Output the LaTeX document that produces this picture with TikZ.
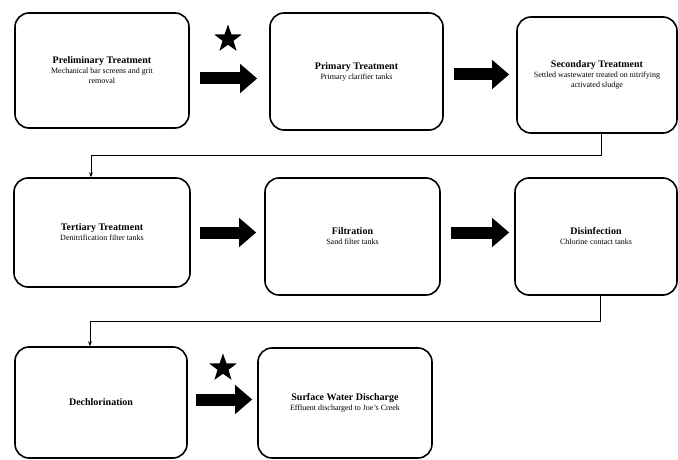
\documentclass[tikz,border=0pt]{standalone}
\usepackage{fontspec}
\setmainfont{Liberation Serif}
\usetikzlibrary{arrows.meta,shapes.geometric}

\tikzset{
  stage/.style={draw, line width=1.6pt, rounded corners=14pt, align=center,
    inner sep=2pt, font=\fontsize{8}{10}\selectfont},
  bigarrow/.style={line width=12pt, -{Triangle[length=17pt,width=28pt]}},
  flow/.style={line width=0.8pt, -{Stealth[length=5pt,width=4pt]}},
  bigstar/.style={star, star points=5, star point ratio=2.5, fill=black,
    minimum size=29pt, inner sep=0pt}
}
\newcommand{\stitle}[1]{{\fontsize{10}{10}\selectfont\bfseries #1}}

\begin{document}
\begin{tikzpicture}[x=1pt,y=-1pt,line join=round]
\useasboundingbox (0,0) rectangle (678,460);

% first row
\node[stage, minimum width=174pt, minimum height=115pt] (prelim) at (102,70.5)
  {\stitle{Preliminary Treatment}\\Mechanical bar screens and grit\\removal};
\node[stage, minimum width=173pt, minimum height=117pt] (primary) at (356.5,71.5)
  {\stitle{Primary Treatment}\\Primary clarifier tanks};
\node[stage, minimum width=160pt, minimum height=116pt] (secondary) at (597,75)
  {\stitle{Secondary Treatment}\\Settled wastewater treated on nitrifying\\activated sludge};

% second row
\node[stage, minimum width=176pt, minimum height=109pt] (tertiary) at (102,232.5)
  {\stitle{Tertiary Treatment}\\Denitrification filter tanks};
\node[stage, minimum width=175pt, minimum height=117pt] (filtration) at (352.5,236.5)
  {\stitle{Filtration}\\Sand filter tanks};
\node[stage, minimum width=162pt, minimum height=117pt] (disinfection) at (596,236.5)
  {\stitle{Disinfection}\\Chlorine contact tanks};

% third row
\node[stage, minimum width=172pt, minimum height=111pt] (dechlor) at (101,402.5)
  {\stitle{Dechlorination}};
\node[stage, minimum width=174pt, minimum height=110pt] (discharge) at (345,403)
  {\stitle{Surface Water Discharge}\\Effluent discharged to Joe's Creek};

% stars
\node[bigstar] (star1) at (228,39) {};
\node[bigstar] (star2) at (223,368) {};

% block arrows
\draw[bigarrow] ([shift={(10,8)}]prelim.east) -- ([shift={(-12,8)}]prelim.east -| primary.west);
\draw[bigarrow] ([shift={(10,3)}]primary.east) -- ([shift={(-7,3)}]primary.east -| secondary.west);
\draw[bigarrow] ([shift={(9,0)}]tertiary.east) -- ([shift={(-8,0)}]tertiary.east -| filtration.west);
\draw[bigarrow] ([shift={(10,-4)}]filtration.east) -- ([shift={(-5,-4)}]filtration.east -| disinfection.west);
\draw[bigarrow] ([shift={(8,-3)}]dechlor.east) -- ([shift={(-5,-3)}]dechlor.east -| discharge.west);

% row connectors
\draw[flow] ([xshift=4pt]secondary.south) -- ++(0,22) -| ([xshift=-11pt]tertiary.north);
\draw[flow] ([xshift=4pt]disinfection.south) -- ++(0,26) -| ([xshift=-11pt]dechlor.north);
\end{tikzpicture}
\end{document}
